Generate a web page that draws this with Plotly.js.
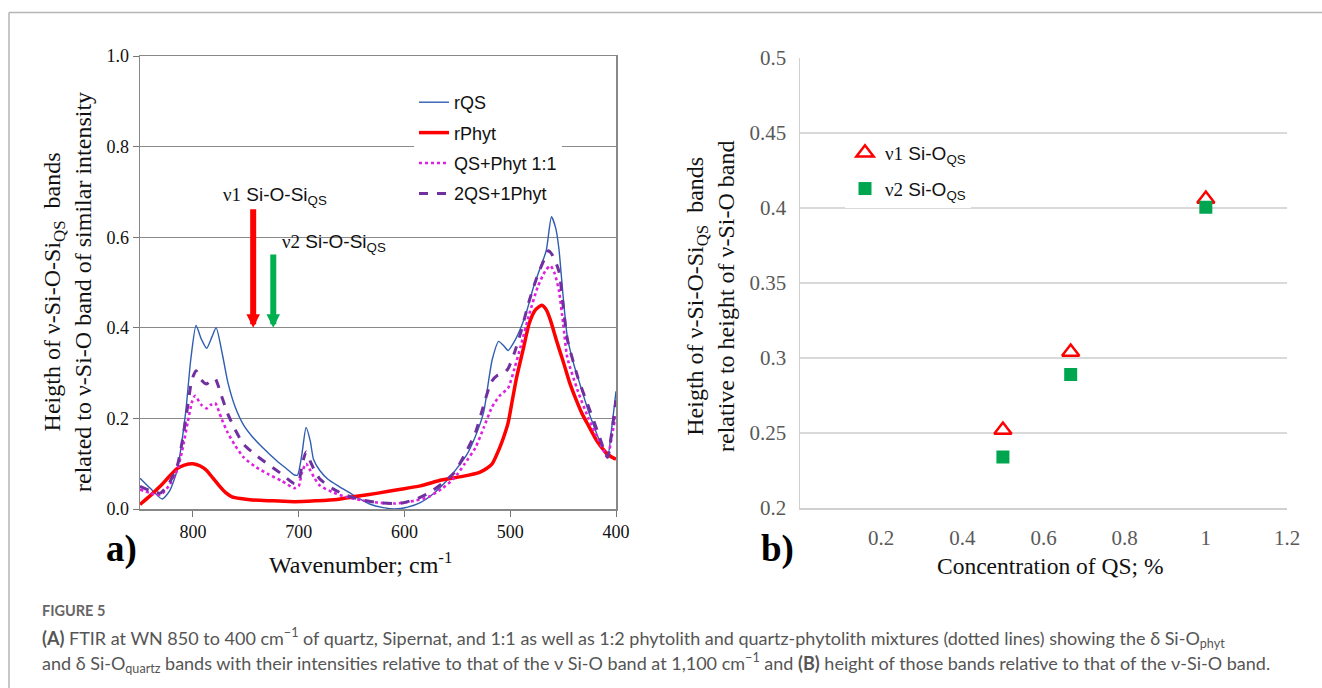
<!DOCTYPE html>
<html><head><meta charset="utf-8">
<script src="https://cdn.plot.ly/plotly-3.0.1.min.js"></script>
<style>html,body{margin:0;padding:0;background:#fff}#chart{width:1322px;height:688px}</style>
</head><body><div id="chart"></div>
<script>
// ---- Panel a) FTIR spectra ----
const wn_rQS = [850,840,829,822,815,807,802,797,792,787,782,778,772,767,760,752,744,736,728,720,712,704,701,697,693,689,686,680,672,662,652,642,633,620,609,597,585,573,561,551,541,533,525,520,517,511,506,502,496,490,484,478,472,466,461,457,454,450,446,440,434,426,418,412,408,404,400];
const y_rQS  = [0.068,0.045,0.022,0.04,0.085,0.21,0.33,0.405,0.375,0.355,0.38,0.40,0.34,0.28,0.225,0.185,0.16,0.14,0.122,0.105,0.09,0.075,0.075,0.12,0.18,0.15,0.11,0.085,0.065,0.05,0.036,0.022,0.011,0.003,0.0,0.004,0.014,0.033,0.06,0.088,0.12,0.16,0.215,0.29,0.33,0.37,0.36,0.35,0.37,0.40,0.44,0.49,0.53,0.57,0.645,0.62,0.575,0.47,0.38,0.32,0.275,0.215,0.165,0.13,0.114,0.18,0.26];

const wn_rPhyt = [850,840,831,823,815,808,800,793,787,781,775,769,763,755,744,724,704,684,664,645,625,605,585,565,545,529,522,517,510,506,502,498,494,488,482,476,470,466,462,456,450,444,438,432,426,418,410,405,400];
const y_rPhyt  = [0.01,0.03,0.05,0.07,0.089,0.097,0.10,0.095,0.085,0.068,0.051,0.036,0.027,0.023,0.02,0.018,0.016,0.018,0.021,0.028,0.035,0.043,0.051,0.064,0.072,0.081,0.09,0.10,0.135,0.16,0.19,0.24,0.29,0.35,0.41,0.44,0.45,0.44,0.417,0.37,0.326,0.28,0.243,0.21,0.184,0.15,0.126,0.116,0.11];

const wn_mix11 = [850,840,831,823,815,810,805,801,798,792,787,783,779,773,767,760,752,740,728,716,704,700,697,693,689,685,680,668,656,640,625,610,601,589,577,565,553,543,533,525,517,510,502,496,490,482,474,467,462,458,454,450,446,436,426,418,412,408,404,400];
const y_mix11  = [0.043,0.035,0.031,0.05,0.085,0.13,0.19,0.235,0.25,0.23,0.222,0.23,0.234,0.2,0.168,0.14,0.114,0.092,0.076,0.062,0.046,0.05,0.08,0.10,0.085,0.068,0.052,0.037,0.027,0.019,0.014,0.012,0.014,0.019,0.027,0.044,0.068,0.1,0.135,0.18,0.226,0.25,0.267,0.31,0.36,0.43,0.49,0.525,0.537,0.52,0.483,0.41,0.334,0.26,0.20,0.16,0.13,0.114,0.16,0.21];

const wn_mix21 = [850,840,831,823,815,810,805,801,797,792,787,783,779,773,767,760,752,740,728,716,704,700,697,693,689,685,680,668,656,640,625,610,601,589,577,565,553,543,533,525,518,512,506,502,496,490,482,474,468,464,460,454,450,446,436,426,418,412,408,404,400];
const y_mix21  = [0.05,0.04,0.035,0.055,0.093,0.15,0.226,0.285,0.305,0.285,0.276,0.284,0.288,0.25,0.21,0.175,0.143,0.118,0.097,0.077,0.056,0.06,0.095,0.126,0.105,0.085,0.066,0.045,0.031,0.02,0.014,0.012,0.014,0.022,0.035,0.055,0.08,0.12,0.168,0.23,0.28,0.295,0.30,0.31,0.345,0.39,0.46,0.517,0.55,0.57,0.56,0.525,0.45,0.375,0.29,0.226,0.175,0.135,0.114,0.17,0.24];

const seriesNames = ["rQS","rPhyt","QS+Phyt 1:1","2QS+1Phyt"];
const xTicksA = [800,700,600,500,400];
const yTicksA = [0,0.2,0.4,0.6,0.8,1.0];

// arrows (wavenumber, top, bottom)
const arrowWn  = [743, 724];
const arrowTop = [0.665, 0.565];
const arrowBot = [0.40, 0.40];

// ---- Panel b) band heights ----
const concQS = [0.5, 0.667, 1.0];
const v1Height = [0.252, 0.304, 0.406];
const v2Height = [0.234, 0.289, 0.4005];
const xTicksB = [0.2,0.4,0.6,0.8,1,1.2];
const yTicksB = [0.2,0.25,0.3,0.35,0.4,0.45,0.5];

const serif = "Liberation Serif, Times New Roman, serif";
const sans = "Liberation Sans, Arial, sans-serif";
const capFont = "Lato, Open Sans, sans-serif";

const traces = [
  {x: wn_rQS, y: y_rQS, name: seriesNames[0], mode:"lines", line:{color:"#2f5db0", width:1.4, shape:"spline", smoothing:0.6}, legend:"legend", legendgroup:"a1", xaxis:"x", yaxis:"y"},
  {x: wn_rPhyt, y: y_rPhyt, name: seriesNames[1], mode:"lines", line:{color:"#ff0000", width:3.5, shape:"spline", smoothing:0.6}, legend:"legend", legendgroup:"a2", xaxis:"x", yaxis:"y"},
  {x: wn_mix11, y: y_mix11, name: seriesNames[2], mode:"lines", line:{color:"#e020e0", width:2.6, dash:"dot", shape:"spline", smoothing:0.6}, legend:"legend", legendgroup:"a3", xaxis:"x", yaxis:"y"},
  {x: wn_mix21, y: y_mix21, name: seriesNames[3], mode:"lines", line:{color:"#7030a0", width:3, dash:"dash", shape:"spline", smoothing:0.6}, legend:"legend", legendgroup:"a4", xaxis:"x", yaxis:"y"},
  {x: concQS, y: v1Height, name: "<span style='font-family:Liberation Serif'>ν1</span> Si-O<sub>QS</sub>", mode:"markers", marker:{symbol:"triangle-up-open", color:"#ff0000", size:15, line:{width:2.5, color:"#ff0000"}}, legend:"legend2", legendgroup:"b1", xaxis:"x2", yaxis:"y2"},
  {x: concQS, y: v2Height, name: "<span style='font-family:Liberation Serif'>ν2</span> Si-O<sub>QS</sub>", mode:"markers", marker:{symbol:"square", color:"#00a550", size:13}, legend:"legend2", legendgroup:"b2", xaxis:"x2", yaxis:"y2"}
];

const W = 1322, H = 688;
const px = v => v / W, py = v => 1 - v / H;

const annotations = [];
const arrowColors = ["#ff0000", "#00b050"];
for (let i = 0; i < arrowWn.length; i++) {
  annotations.push({x: arrowWn[i], y: arrowBot[i], ax: arrowWn[i], ay: arrowTop[i], xref:"x", yref:"y", axref:"x", ayref:"y",
    showarrow:true, arrowcolor: arrowColors[i], arrowwidth:6, arrowhead:2, arrowsize:0.45, text:""});
}
annotations.push({x: px(221), y: py(196), xref:"paper", yref:"paper", xanchor:"left", yanchor:"middle", showarrow:false,
  text:"<span style='font-family:Liberation Serif'>ν1</span> Si-O-Si<sub>QS</sub>", font:{family:sans, size:19, color:"#111"}});
annotations.push({x: px(280), y: py(243), xref:"paper", yref:"paper", xanchor:"left", yanchor:"middle", showarrow:false,
  text:"<span style='font-family:Liberation Serif'>ν2</span> Si-O-Si<sub>QS</sub>", font:{family:sans, size:19, color:"#111"}});
// axis titles placed as text
annotations.push({x: px(360), y: py(563), xref:"paper", yref:"paper", xanchor:"center", yanchor:"middle", showarrow:false,
  text:"Wavenumber; cm<sup>-1</sup>", font:{family:serif, size:24, color:"#111"}});
annotations.push({x: px(1050), y: py(566), xref:"paper", yref:"paper", xanchor:"center", yanchor:"middle", showarrow:false,
  text:"Concentration of QS; %", font:{family:serif, size:23.5, color:"#111"}});
annotations.push({x: px(67), y: py(292), xref:"paper", yref:"paper", xanchor:"center", yanchor:"middle", showarrow:false, textangle:-90,
  text:"Heigth of ν-Si-O-Si<sub>QS</sub>  bands<br>related to ν-Si-O band of similar intensity", font:{family:serif, size:24, color:"#111"}});
annotations.push({x: px(710), y: py(297), xref:"paper", yref:"paper", xanchor:"center", yanchor:"middle", showarrow:false, textangle:-90,
  text:"Heigth of ν-Si-O-Si<sub>QS</sub>  bands<br>relative to height of ν-Si-O band", font:{family:serif, size:24, color:"#111"}});
// panel labels
annotations.push({x: px(104), y: py(549), xref:"paper", yref:"paper", xanchor:"left", yanchor:"middle", showarrow:false,
  text:"<b>a)</b>", font:{family:serif, size:37, color:"#000"}});
annotations.push({x: px(759), y: py(549), xref:"paper", yref:"paper", xanchor:"left", yanchor:"middle", showarrow:false,
  text:"<b>b)</b>", font:{family:serif, size:37, color:"#000"}});
// caption
annotations.push({x: px(40), y: py(610), xref:"paper", yref:"paper", xanchor:"left", yanchor:"middle", showarrow:false,
  text:"<b>FIGURE 5</b>", font:{family:capFont, size:14.5, color:"#666"}});
annotations.push({x: px(40), y: py(638), xref:"paper", yref:"paper", xanchor:"left", yanchor:"middle", showarrow:false,
  text:"<b>(A)</b> FTIR at WN 850 to 400 cm<sup>−1</sup> of quartz, Sipernat, and 1:1 as well as 1:2 phytolith and quartz-phytolith mixtures (dotted lines) showing the δ Si-O<sub>phyt</sub>",
  font:{family:capFont, size:18, color:"#555"}});
annotations.push({x: px(40), y: py(663), xref:"paper", yref:"paper", xanchor:"left", yanchor:"middle", showarrow:false,
  text:"and δ Si-O<sub>quartz</sub> bands with their intensities relative to that of the ν Si-O band at 1,100 cm<sup>−1</sup> and <b>(B)</b> height of those bands relative to that of the ν-Si-O band.",
  font:{family:capFont, size:18, color:"#555"}});

const layout = {
  width: W, height: H,
  margin: {l:0, r:0, t:0, b:0},
  paper_bgcolor: "#fff", plot_bgcolor: "#fff",
  showlegend: true,
  xaxis: {domain:[px(140), px(616)], anchor:"y", range:[850,400], tickvals:xTicksA, ticktext:xTicksA.map(String),
    ticks:"outside", ticklen:6, tickcolor:"#777", showgrid:false, zeroline:false, showline:true, mirror:true, linecolor:"#888", linewidth:1.5,
    tickfont:{family:serif, size:18, color:"#111"}},
  yaxis: {domain:[py(509), py(56)], anchor:"x", range:[0,1], tickvals:yTicksA, ticktext:yTicksA.map(v=>v.toFixed(1)),
    ticks:"outside", ticklen:6, tickcolor:"#777", showgrid:true, gridcolor:"#8a8a8a", gridwidth:1.2, zeroline:false, showline:true, mirror:true, linecolor:"#888", linewidth:1.5,
    tickfont:{family:serif, size:18, color:"#111"}},
  xaxis2: {domain:[px(800), px(1287)], anchor:"y2", range:[0,1.2], tickvals:xTicksB, ticktext:xTicksB.map(String),
    ticks:"", ticklabelstandoff:10, showgrid:false, zeroline:false, showline:true, linecolor:"#d0d0d0", linewidth:1.5,
    tickfont:{family:serif, size:21, color:"#595959"}},
  yaxis2: {domain:[py(508), py(58)], anchor:"x2", range:[0.2,0.5], tickvals:yTicksB, ticktext:yTicksB.map(String),
    ticks:"", ticklabelstandoff:8, showgrid:true, gridcolor:"#d9d9d9", gridwidth:1.5, zeroline:false, showline:true, linecolor:"#d0d0d0", linewidth:1.5,
    tickfont:{family:serif, size:21, color:"#595959"}},
  legend: {x: px(414), y: py(84), xanchor:"left", yanchor:"top", bgcolor:"#fff", borderwidth:0,
    font:{family:sans, size:18, color:"#111"}, traceorder:"grouped", tracegroupgap:4, itemwidth:30},
  legend2: {x: px(845), y: py(134), xanchor:"left", yanchor:"top", bgcolor:"#fff", borderwidth:0,
    font:{family:sans, size:19, color:"#111"}, traceorder:"grouped", tracegroupgap:8, itemwidth:30},
  annotations: annotations,
  shapes: [
    {type:"line", xref:"paper", yref:"paper", x0:px(9), x1:1, y0:py(12.5), y1:py(12.5), line:{color:"#b5b5b5", width:1.5}},
    {type:"line", xref:"paper", yref:"paper", x0:px(9), x1:px(9), y0:py(12.5), y1:0, line:{color:"#b5b5b5", width:1.5}}
  ]
};

Plotly.newPlot("chart", traces, layout, {displayModeBar:false, staticPlot:true});
</script>
</body></html>
